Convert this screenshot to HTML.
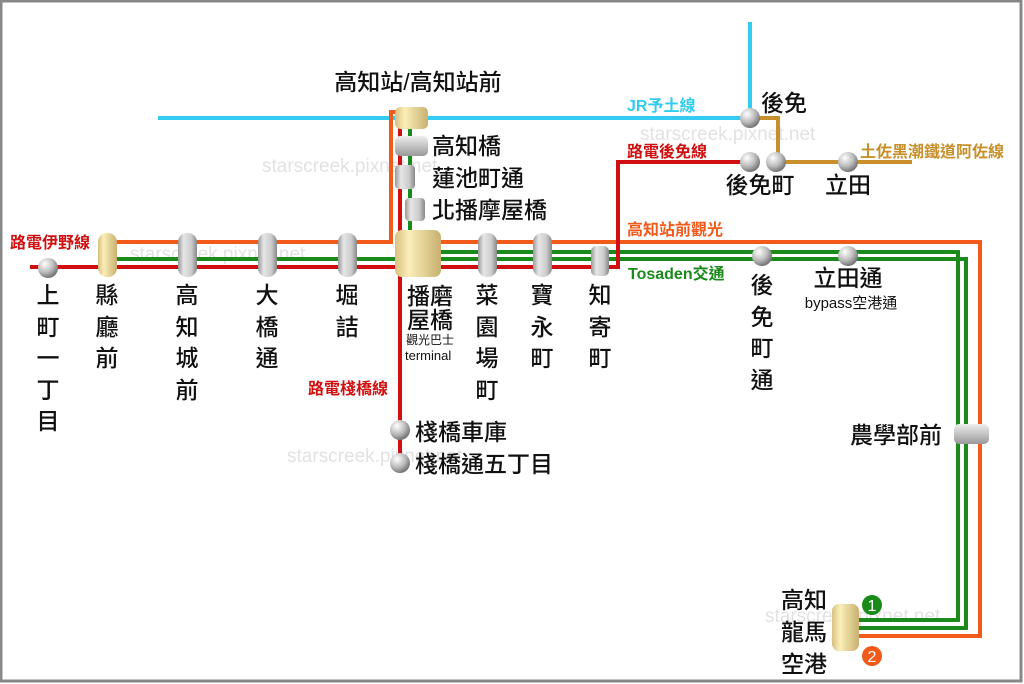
<!DOCTYPE html>
<html><head><meta charset="utf-8"><style>
body{margin:0;background:#fff}
svg{display:block}
text{font-family:"Liberation Sans","Noto Sans CJK TC",sans-serif}
.s{font-size:23px;fill:#111;text-anchor:middle;font-weight:500}
.l{font-size:16px;font-weight:bold}
.w{font-size:19px;fill:#e2e2e2}
</style></head><body>
<svg width="1024" height="684" viewBox="0 0 1024 684">
<defs>
<radialGradient id="ball" cx="35%" cy="30%" r="70%"><stop offset="0" stop-color="#fff"/><stop offset="0.6" stop-color="#bbb"/><stop offset="1" stop-color="#777"/></radialGradient>
<linearGradient id="gp" x1="0" x2="1"><stop offset="0" stop-color="#999"/><stop offset="0.3" stop-color="#e6e6e6"/><stop offset="0.7" stop-color="#ccc"/><stop offset="1" stop-color="#888"/></linearGradient>
<linearGradient id="gh" x1="0" y1="0" x2="0" y2="1"><stop offset="0" stop-color="#eee"/><stop offset="1" stop-color="#999"/></linearGradient>
<linearGradient id="yp" x1="0" x2="1"><stop offset="0" stop-color="#d8c080"/><stop offset="0.3" stop-color="#fbeeb8"/><stop offset="1" stop-color="#c8b070"/></linearGradient>
</defs>
<rect x="1" y="1" width="1020" height="680" fill="#fff" stroke="#888" stroke-width="3"/>
<g>
<text x="262" y="172" class="w">starscreek.pixnet.net</text>
<text x="130" y="260" class="w">starscreek.pixnet.net</text>
<text x="640" y="140" class="w">starscreek.pixnet.net</text>
<text x="287" y="462" class="w">starscreek.pixnet.net</text>
<text x="765" y="622" class="w">starscreek.pixnet.net</text>
</g>
<g fill="none" stroke-width="4">
<polyline points="158,118 750,118 750,22" stroke="#33ccf0"/>
<polyline points="750,118 778,118 778,162 912,162" stroke="#c8902a"/>
<polyline points="100,242 391,242 391,112 414,112 414,120" stroke="#f25a1a"/>
<polyline points="420,242 980,242 980,636 845,636" stroke="#f25a1a"/>
<polyline points="100,259 400,259" stroke="#1a8a1a"/>
<polyline points="410,128 410,242" stroke="#1a8a1a"/>
<polyline points="430,252 958,252 958,620 845,620" stroke="#1a8a1a"/>
<polyline points="430,259 966,259 966,628 845,628" stroke="#1a8a1a"/>
<polyline points="30,267 618,267 618,162 750,162" stroke="#d01010"/>
<polyline points="400,116 400,465" stroke="#d01010"/>
</g>
<g stroke="none">
<rect x="98" y="233" width="19" height="44" rx="9" fill="url(#yp)"/>
<rect x="178" y="233" width="19" height="44" rx="9" fill="url(#gp)"/>
<rect x="258" y="233" width="19" height="44" rx="9" fill="url(#gp)"/>
<rect x="338" y="233" width="19" height="44" rx="9" fill="url(#gp)"/>
<rect x="478" y="233" width="19" height="44" rx="9" fill="url(#gp)"/>
<rect x="533" y="233" width="19" height="44" rx="9" fill="url(#gp)"/>
<rect x="591" y="246" width="18" height="30" rx="5" fill="url(#gp)"/>
<rect x="395" y="230" width="46" height="47" rx="7" fill="url(#yp)"/>
<rect x="395" y="107" width="33" height="22" rx="5" fill="url(#yp)"/>
<rect x="395" y="136" width="33" height="20" rx="5" fill="url(#gh)"/>
<rect x="395" y="165" width="20" height="24" rx="4" fill="url(#gp)"/>
<rect x="405" y="198" width="20" height="23" rx="4" fill="url(#gp)"/>
<rect x="954" y="424" width="35" height="20" rx="5" fill="url(#gh)"/>
<rect x="832" y="604" width="27" height="47" rx="7" fill="url(#yp)"/>
<circle cx="48" cy="268" r="10" fill="url(#ball)"/>
<circle cx="762" cy="256" r="10" fill="url(#ball)"/>
<circle cx="848" cy="256" r="10" fill="url(#ball)"/>
<circle cx="750" cy="118" r="10" fill="url(#ball)"/>
<circle cx="750" cy="162" r="10" fill="url(#ball)"/>
<circle cx="776" cy="162" r="10" fill="url(#ball)"/>
<circle cx="848" cy="162" r="10" fill="url(#ball)"/>
<circle cx="400" cy="430" r="10" fill="url(#ball)"/>
<circle cx="400" cy="463" r="10" fill="url(#ball)"/>
<circle cx="872" cy="605" r="10" fill="#1a8a1a"/>
<circle cx="872" cy="656" r="10" fill="#f25a1a"/>
</g>
<text x="872" y="611" fill="#fff" font-size="16" text-anchor="middle">1</text>
<text x="872" y="662" fill="#fff" font-size="16" text-anchor="middle">2</text>
<text x="10" y="248" class="l" fill="#d01010">路電伊野線</text>
<text x="627" y="111" class="l" fill="#33ccf0" font-weight="normal">JR予土線</text>
<text x="627" y="157" class="l" fill="#d01010">路電後免線</text>
<text x="860" y="157" class="l" fill="#c8902a">土佐黑潮鐵道阿佐線</text>
<text x="627" y="235" class="l" fill="#f25a1a">高知站前觀光</text>
<text x="628" y="279" class="l" fill="#1a8a1a">Tosaden交通</text>
<text x="308" y="394" class="l" fill="#d01010">路電棧橋線</text>
<g class="s">
<text x="418" y="90">高知站/高知站前</text>
<text x="432" y="154" style="text-anchor:start">高知橋</text>
<text x="432" y="186" style="text-anchor:start">蓮池町通</text>
<text x="432" y="218" style="text-anchor:start">北播摩屋橋</text>
<text x="415" y="440" style="text-anchor:start">棧橋車庫</text>
<text x="415" y="472" style="text-anchor:start">棧橋通五丁目</text>
<text x="784" y="111">後免</text>
<text x="760" y="193">後免町</text>
<text x="848" y="193">立田</text>
<text x="848" y="286">立田通</text>
<text x="896" y="443">農學部前</text>
<text x="430" y="304">播磨</text>
<text x="430" y="328">屋橋</text>
</g>
<text x="406" y="344" font-size="12" fill="#111">觀光巴士</text>
<text x="405" y="360" font-size="13" fill="#111">terminal</text>
<text x="851" y="308" font-size="15" fill="#111" text-anchor="middle">bypass空港通</text>
<g class="s">
<text x="48" y="303">上</text><text x="48" y="335">町</text><text x="48" y="366">一</text><text x="48" y="398">丁</text><text x="48" y="429">目</text>
<text x="107" y="303">縣</text><text x="107" y="335">廳</text><text x="107" y="366">前</text>
<text x="187" y="303">高</text><text x="187" y="335">知</text><text x="187" y="366">城</text><text x="187" y="398">前</text>
<text x="267" y="303">大</text><text x="267" y="335">橋</text><text x="267" y="366">通</text>
<text x="347" y="303">堀</text><text x="347" y="335">詰</text>
<text x="487" y="303">菜</text><text x="487" y="335">園</text><text x="487" y="366">場</text><text x="487" y="398">町</text>
<text x="542" y="303">寶</text><text x="542" y="335">永</text><text x="542" y="366">町</text>
<text x="600" y="303">知</text><text x="600" y="335">寄</text><text x="600" y="366">町</text>
<text x="762" y="293">後</text><text x="762" y="325">免</text><text x="762" y="356">町</text><text x="762" y="388">通</text>
<text x="804" y="608">高知</text><text x="804" y="640">龍馬</text><text x="804" y="672">空港</text>
</g>
</svg>
</body></html>
